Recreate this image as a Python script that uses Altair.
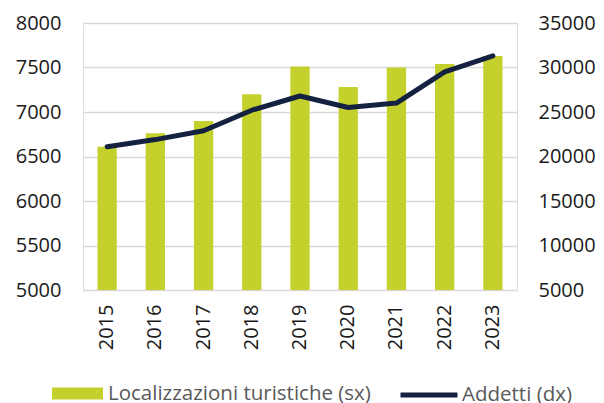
import altair as alt
import pandas as pd

years = ["2015", "2016", "2017", "2018", "2019", "2020", "2021", "2022", "2023"]
localizzazioni = [6610, 6760, 6900, 7200, 7510, 7280, 7500, 7540, 7630]
addetti = [21100, 21900, 22900, 25200, 26800, 25500, 26000, 29500, 31300]

bar_name = "Localizzazioni turistiche (sx)"
line_name = "Addetti (dx)"

df = pd.DataFrame({
    "anno": years,
    "loc": localizzazioni,
    "add": addetti,
    "s1": [bar_name] * len(years),
    "s2": [line_name] * len(years),
})

FONT = "Open Sans"
GREEN = "#c4d02c"
NAVY = "#142141"
AXC = "#1a1a1a"
FS = 20
LFS = 20.5

x = alt.X("anno:N", title=None, sort=years,
          scale=alt.Scale(paddingInner=0.6, paddingOuter=0.3),
          axis=alt.Axis(labelAngle=-90, labelFontSize=FS, labelColor=AXC,
                        labelFont=FONT, ticks=False, domain=False, labelPadding=14,
                        labelBaseline="middle", grid=False))

bars = alt.Chart(df).mark_bar(color=GREEN, clip=True).encode(
    x=x,
    y=alt.Y("loc:Q", title=None,
            scale=alt.Scale(domain=[5000, 8000], zero=False, nice=False),
            axis=alt.Axis(values=[5000, 5500, 6000, 6500, 7000, 7500, 8000], format="d",
                          labelFontSize=FS, labelColor=AXC, labelFont=FONT,
                          ticks=False, domain=False, labelPadding=22,
                          gridColor="#d9d9d9", gridWidth=1.5)),
    fill=alt.Fill("s1:N", scale=alt.Scale(range=[GREEN]),
                  legend=alt.Legend(title=None, orient="none", legendX=-31, legendY=345,
                                    symbolType="M-1,-0.24H1V0.24H-1Z", symbolSize=2601,
                                    symbolStrokeWidth=0, labelOffset=5, labelLimit=500,
                                    labelFontSize=LFS, labelColor="#595959", labelFont=FONT,
                                    padding=0)),
)

line = alt.Chart(df).mark_line(color=NAVY, strokeWidth=5, strokeCap="round",
                               strokeJoin="round").encode(
    x=x,
    y=alt.Y("add:Q", title=None,
            scale=alt.Scale(domain=[5000, 35000], zero=False, nice=False),
            axis=alt.Axis(orient="right", format="d",
                          values=[5000, 10000, 15000, 20000, 25000, 30000, 35000],
                          labelFontSize=FS, labelColor=AXC, labelFont=FONT,
                          ticks=False, domain=False, labelPadding=21, grid=False)),
    stroke=alt.Stroke("s2:N", scale=alt.Scale(range=[NAVY]),
                      legend=alt.Legend(title=None, orient="none", legendX=315, legendY=341,
                                        symbolType="M-1,0H1", symbolSize=3249,
                                        symbolStrokeWidth=5, labelOffset=2, labelLimit=500,
                                        labelFontSize=LFS, labelColor="#595959", labelFont=FONT,
                                        padding=0)),
)

chart = alt.layer(bars, line).resolve_scale(y="independent").properties(
    width=434, height=267,
    autosize=alt.AutoSizeParams(type="none"),
    padding={"left": 75, "top": 15, "right": 79, "bottom": 113},
).configure_view(stroke=None).configure(font=FONT)

chart.save("out.html", embed_options={"renderer": "svg", "actions": False})
